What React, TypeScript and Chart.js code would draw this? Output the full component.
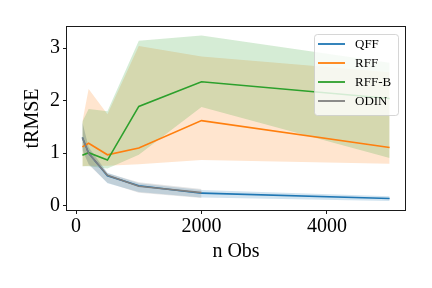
import React, { useEffect, useRef } from "react";
import { Chart, registerables } from "chart.js";

Chart.register(...registerables);

const nObs = [100, 200, 500, 1000, 2000, 5000];
const nObsOdin = [100, 200, 500, 1000, 2000];

const qffMean = [1.3, 1.0, 0.57, 0.38, 0.24, 0.14];
const qffLo = [1.05, 0.8, 0.43, 0.26, 0.16, 0.09];
const qffHi = [1.58, 1.12, 0.63, 0.43, 0.3, 0.18];

const rffMean = [1.12, 1.19, 0.97, 1.1, 1.62, 1.11];
const rffLo = [0.75, 0.76, 0.76, 0.79, 0.87, 0.8];
const rffHi = [1.6, 2.22, 1.74, 3.04, 2.84, 2.54];

const rffbMean = [0.96, 1.01, 0.87, 1.89, 2.36, 2.04];
const rffbLo = [0.75, 0.75, 0.71, 0.97, 1.88, 0.91];
const rffbHi = [1.6, 1.84, 1.8, 3.14, 3.24, 2.72];

const odinMean = [1.3, 1.0, 0.58, 0.37, 0.25];
const odinLo = [1.08, 0.78, 0.44, 0.25, 0.15];
const odinHi = [1.6, 1.1, 0.62, 0.45, 0.32];

const xTicks = [0, 2000, 4000];
const yTicks = [0, 1, 2, 3];

const seriesNames = ["QFF", "RFF", "RFF-B", "ODIN"];
const seriesColors = ["#1f77b4", "#ff7f0e", "#2ca02c", "#7f7f7f"];
const bandColors = [
  "rgba(31,119,180,0.2)",
  "rgba(255,127,14,0.2)",
  "rgba(44,160,44,0.2)",
  "rgba(127,127,127,0.2)",
];

const FONT = "'Liberation Serif', 'DejaVu Serif', serif";

const pts = (xs: number[], ys: number[]) => xs.map((x, i) => ({ x, y: ys[i] }));

const framePlugin = {
  id: "frame",
  afterDatasetsDraw(chart: any) {
    const { ctx, chartArea } = chart;
    const l = Math.round(chartArea.left) - 0.5;
    const r = Math.round(chartArea.right) + 0.5;
    const t = Math.round(chartArea.top) - 0.5;
    const b = Math.round(chartArea.bottom) + 0.5;
    ctx.save();
    ctx.strokeStyle = "#1a1a1a";
    ctx.lineWidth = 1;
    ctx.strokeRect(l, t, r - l, b - t);
    ctx.restore();
  },
};

const legendPlugin = {
  id: "mplLegend",
  afterDraw(chart: any) {
    const { ctx } = chart;
    const x = 314.5;
    const y = 34.5;
    const w = 84;
    const h = 81;
    const rad = 3;
    ctx.save();
    ctx.beginPath();
    ctx.moveTo(x + rad, y);
    ctx.lineTo(x + w - rad, y);
    ctx.arcTo(x + w, y, x + w, y + rad, rad);
    ctx.lineTo(x + w, y + h - rad);
    ctx.arcTo(x + w, y + h, x + w - rad, y + h, rad);
    ctx.lineTo(x + rad, y + h);
    ctx.arcTo(x, y + h, x, y + h - rad, rad);
    ctx.lineTo(x, y + rad);
    ctx.arcTo(x, y, x + rad, y, rad);
    ctx.closePath();
    ctx.fillStyle = "rgba(255,255,255,0.8)";
    ctx.fill();
    ctx.strokeStyle = "rgba(204,204,204,0.8)";
    ctx.lineWidth = 1;
    ctx.stroke();
    ctx.font = `13px ${FONT}`;
    ctx.textBaseline = "middle";
    ctx.textAlign = "left";
    seriesNames.forEach((name, i) => {
      const cy = 44 + i * 19;
      ctx.beginPath();
      ctx.moveTo(318, cy);
      ctx.lineTo(345, cy);
      ctx.strokeStyle = seriesColors[i];
      ctx.lineWidth = 1.8;
      ctx.stroke();
      ctx.fillStyle = "#000";
      ctx.fillText(name, 355, cy + 0.5);
    });
    ctx.restore();
  },
};

export default function App() {
  const ref = useRef<HTMLCanvasElement | null>(null);

  useEffect(() => {
    if (!ref.current) return;
    const bandSets = [
      [nObs, qffLo, qffHi],
      [nObs, rffLo, rffHi],
      [nObs, rffbLo, rffbHi],
      [nObsOdin, odinLo, odinHi],
    ] as number[][][];
    const means = [
      [nObs, qffMean],
      [nObs, rffMean],
      [nObs, rffbMean],
      [nObsOdin, odinMean],
    ] as number[][][];

    const datasets: any[] = [];
    bandSets.forEach(([xs, lo, hi], i) => {
      const loIndex = datasets.length;
      datasets.push({
        label: seriesNames[i] + " lo",
        data: pts(xs, lo),
        borderWidth: 0,
        borderColor: "transparent",
        pointRadius: 0,
        fill: false,
        order: 14 - i * 2,
      });
      datasets.push({
        label: seriesNames[i] + " hi",
        data: pts(xs, hi),
        borderWidth: 0,
        borderColor: "transparent",
        backgroundColor: bandColors[i],
        pointRadius: 0,
        fill: { target: loIndex },
        order: 13 - i * 2,
      });
    });
    means.forEach(([xs, ys], i) => {
      datasets.push({
        label: seriesNames[i],
        data: pts(xs, ys),
        borderColor: seriesColors[i],
        borderWidth: 1.6,
        pointRadius: 0,
        fill: false,
        order: 4 - i,
      });
    });

    const tickFont = { family: FONT, size: 20 };
    const chart = new Chart(ref.current, {
      type: "line",
      data: { datasets },
      plugins: [framePlugin, legendPlugin],
      options: {
        animation: false,
        responsive: false,
        devicePixelRatio: 1,
        layout: { padding: { left: 0, top: 27, right: 27, bottom: 0 } },
        plugins: {
          legend: { display: false },
          tooltip: { enabled: false },
          filler: { drawTime: "beforeDatasetsDraw" },
        },
        scales: {
          x: {
            type: "linear",
            min: -145,
            max: 5245,
            afterBuildTicks: (s: any) => {
              s.ticks = xTicks.map((v) => ({ value: v }));
            },
            afterFit: (s: any) => {
              s.height = 78;
            },
            grid: {
              drawOnChartArea: false,
              drawTicks: true,
              tickLength: 4,
              color: "#000",
              lineWidth: 0.9,
            },
            border: { display: false },
            ticks: {
              font: tickFont,
              color: "#000",
              padding: 1,
              maxRotation: 0,
              callback: (v: any) => String(v),
            },
            title: {
              display: true,
              text: "n Obs",
              font: tickFont,
              color: "#000",
              padding: { top: 0, bottom: 24 },
            },
          },
          y: {
            type: "linear",
            min: -0.08,
            max: 3.4,
            afterBuildTicks: (s: any) => {
              s.ticks = yTicks.map((v) => ({ value: v }));
            },
            afterFit: (s: any) => {
              s.width = 67;
            },
            grid: {
              drawOnChartArea: false,
              drawTicks: true,
              tickLength: 4,
              color: "#000",
              lineWidth: 0.9,
            },
            border: { display: false },
            ticks: {
              font: tickFont,
              color: "#000",
              padding: 3,
              callback: (v: any) => String(v),
            },
            title: {
              display: true,
              text: "tRMSE",
              font: tickFont,
              color: "#000",
              padding: { top: 21, bottom: 0 },
            },
          },
        },
      },
    } as any);
    return () => chart.destroy();
  }, []);

  return (
    <div style={{ position: "fixed", left: 0, top: 0, width: 432, height: 288, background: "#fff" }}>
      <canvas ref={ref} width={432} height={288} style={{ width: 432, height: 288, display: "block" }} />
    </div>
  );
}
